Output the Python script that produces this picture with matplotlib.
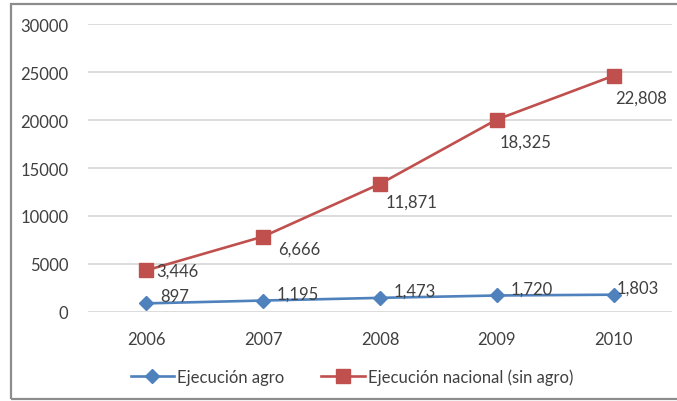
import matplotlib
matplotlib.use('Agg')
import matplotlib.pyplot as plt
from matplotlib.patches import Rectangle

years = ['2006', '2007', '2008', '2009', '2010']
agro = [897, 1195, 1473, 1720, 1803]
nacional = [3446, 6666, 11871, 18325, 22808]

plt.rcParams['font.family'] = ['Lato', 'DejaVu Sans']
txt = '#404040'
blue = '#4F81BD'
red = '#C0504D'

fig = plt.figure(figsize=(6.77, 4.02), dpi=100)
ax = fig.add_axes([0.130, 0.2214, 0.8626, 0.7164])

x = list(range(len(years)))
# stacked line: red series sits on top of agro
stacked = [a + n for a, n in zip(agro, nacional)]

ax.plot(x, agro, color=blue, lw=1.9, marker='D', ms=7.5, label='Ejecución agro', zorder=3)
ax.plot(x, stacked, color=red, lw=1.9, marker='s', ms=9.5, label='Ejecución nacional (sin agro)', zorder=3)

blue_off = [(10, 5), (10, 5), (10, 5), (10, 5), (2, 5)]
for xi, v, off in zip(x, agro, blue_off):
    ax.annotate(f'{v:,}', (xi, v), xytext=off, textcoords='offset points',
                ha='left', va='center', fontsize=12, color=txt)

red_off = [(7, 0), (11, -9), (4, -13), (2, -16), (1, -16)]
for xi, s, v, off in zip(x, stacked, nacional, red_off):
    ax.annotate(f'{v:,}', (xi, s), xytext=off, textcoords='offset points',
                ha='left', va='center', fontsize=12, color=txt)

ax.set_xlim(-0.5, 4.5)
ax.set_ylim(0, 30000)
ax.set_yticks(range(0, 30001, 5000))
ax.set_xticks(x)
ax.set_xticklabels(years)
ax.grid(axis='y', color='#D9D9D9', lw=1.3)
ax.set_axisbelow(True)
for sp in ax.spines.values():
    sp.set_visible(False)
ax.tick_params(length=0, labelsize=12, colors=txt)
ax.tick_params(axis='y', pad=14)
ax.tick_params(axis='x', pad=14)

fig.legend(loc='center', bbox_to_anchor=(0.52, 0.06), ncol=2, frameon=False,
           fontsize=12, labelcolor=txt, handlelength=2.6, handletextpad=0.2,
           columnspacing=2.2)

fig.patches.append(Rectangle((0.016, 0.005), 0.99, 0.983, transform=fig.transFigure,
                             fill=False, edgecolor='#8C8C8C', lw=1.6))

fig.savefig('out.png', dpi=100)
